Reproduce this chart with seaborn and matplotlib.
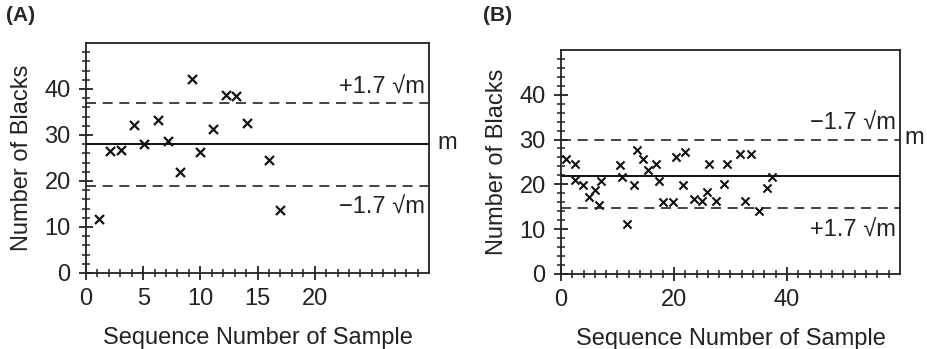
import matplotlib
matplotlib.use("Agg")
import matplotlib.pyplot as plt
import numpy as np
import pandas as pd
import seaborn as sns

# Panel A: sequence number vs. number of blacks
a_seq = [1.1, 2.1, 3.1, 4.2, 5.1, 6.3, 7.2, 8.2, 9.3, 10.0, 11.1, 12.2, 13.1, 14.1, 16.0, 17.0]
a_blacks = [11.8, 26.6, 26.7, 32.1, 28.0, 33.3, 28.8, 22.0, 42.2, 26.4, 31.4, 38.8, 38.4, 32.5, 24.6, 13.6]
a_mean = 28.0
a_upper = 37.0
a_lower = 19.0

# Panel B
b_seq = [0.9, 2.5, 2.5, 3.9, 5.0, 6.0, 6.7, 7.1, 10.5, 10.8, 11.7, 12.9, 13.5, 14.6, 15.4,
         16.8, 17.4, 18.1, 19.9, 20.4, 22.0, 21.6, 23.6, 24.9, 25.8, 26.2, 27.5, 28.8, 29.4,
         31.6, 32.6, 33.6, 35.1, 36.4, 37.4]
b_blacks = [25.6, 24.6, 21.0, 19.9, 17.1, 18.7, 15.5, 20.8, 24.4, 21.6, 11.2, 19.9, 27.6, 25.6, 23.1,
            24.5, 20.8, 16.1, 16.1, 26.1, 27.2, 19.9, 16.8, 16.3, 18.4, 24.6, 16.2, 20.1, 24.5,
            26.7, 16.2, 26.8, 14.0, 19.2, 21.6]
b_mean = 21.8
b_upper = 29.8
b_lower = 14.7

font_size = 17
label_size = 17


def style_axis(ax, xmax, xmajor, xminor):
    ax.set_xlim(0, xmax)
    ax.set_ylim(0, 50)
    ax.set_xticks(xmajor)
    ax.set_xticks(xminor, minor=True)
    ax.set_yticks([0, 10, 20, 30, 40])
    ax.set_yticks(np.arange(2, 50, 2), minor=True)
    ax.tick_params(which="major", direction="inout", length=10, width=1.3, labelsize=label_size,
                   color="#222222", labelcolor="#222222", pad=6)
    ax.tick_params(which="minor", direction="inout", length=6, width=1.1, color="#222222")
    for s in ax.spines.values():
        s.set_visible(True)
        s.set_linewidth(1.3)
        s.set_color("#222222")
    ax.set_xlabel("Sequence Number of Sample", fontsize=font_size, color="#222222", labelpad=12)
    ax.set_ylabel("Number of Blacks", fontsize=font_size, color="#222222", labelpad=8)


def main():
    sns.set_style("ticks")
    plt.rcParams["font.family"] = ["Liberation Sans", "DejaVu Sans"]

    fig = plt.figure(figsize=(9.28, 3.49), dpi=100)
    ax1 = fig.add_axes([0.0927, 0.2178, 0.3696, 0.659])
    ax2 = fig.add_axes([0.6045, 0.2150, 0.3653, 0.642])

    df_a = pd.DataFrame({"seq": a_seq, "blacks": a_blacks})
    sns.scatterplot(data=df_a, x="seq", y="blacks", marker="x", color="#111111", s=42,
                    linewidth=1.6, ax=ax1)
    ax1.axhline(a_mean, color="#111111", linewidth=1.4)
    ax1.axhline(a_upper, color="#222222", linewidth=1.2, linestyle=(0, (6, 4)))
    ax1.axhline(a_lower, color="#222222", linewidth=1.2, linestyle=(0, (6, 4)))
    style_axis(ax1, 30, [0, 5, 10, 15, 20], np.arange(1, 30, 1))
    ax1.text(29.6, 40.2, "+1.7 \u221am", fontsize=font_size, ha="right", va="center", color="#222222")
    ax1.text(29.6, 14.1, "\u22121.7 \u221am", fontsize=font_size, ha="right", va="center", color="#222222")
    ax1.text(31.6, 28.2, "m", fontsize=font_size, ha="center", va="center", color="#222222", clip_on=False)

    df_b = pd.DataFrame({"seq": b_seq, "blacks": b_blacks})
    sns.scatterplot(data=df_b, x="seq", y="blacks", marker="x", color="#111111", s=34,
                    linewidth=1.5, ax=ax2)
    ax2.axhline(b_mean, color="#111111", linewidth=1.4)
    ax2.axhline(b_upper, color="#222222", linewidth=1.2, linestyle=(0, (6, 4)))
    ax2.axhline(b_lower, color="#222222", linewidth=1.2, linestyle=(0, (6, 4)))
    style_axis(ax2, 60, [0, 20, 40], np.arange(2, 60, 2))
    ax2.text(59.3, 33.5, "\u22121.7 \u221am", fontsize=font_size, ha="right", va="center", color="#222222")
    ax2.text(59.3, 9.7, "+1.7 \u221am", fontsize=font_size, ha="right", va="center", color="#222222")
    ax2.text(60.8, 30.3, "m", fontsize=font_size, ha="left", va="center", color="#222222", clip_on=False)

    fig.text(0.006, 0.955, "(A)", fontsize=15, fontweight="bold", ha="left", va="center")
    fig.text(0.520, 0.955, "(B)", fontsize=15, fontweight="bold", ha="left", va="center")

    fig.savefig("out.png", dpi=100)


if __name__ == "__main__":
    main()
